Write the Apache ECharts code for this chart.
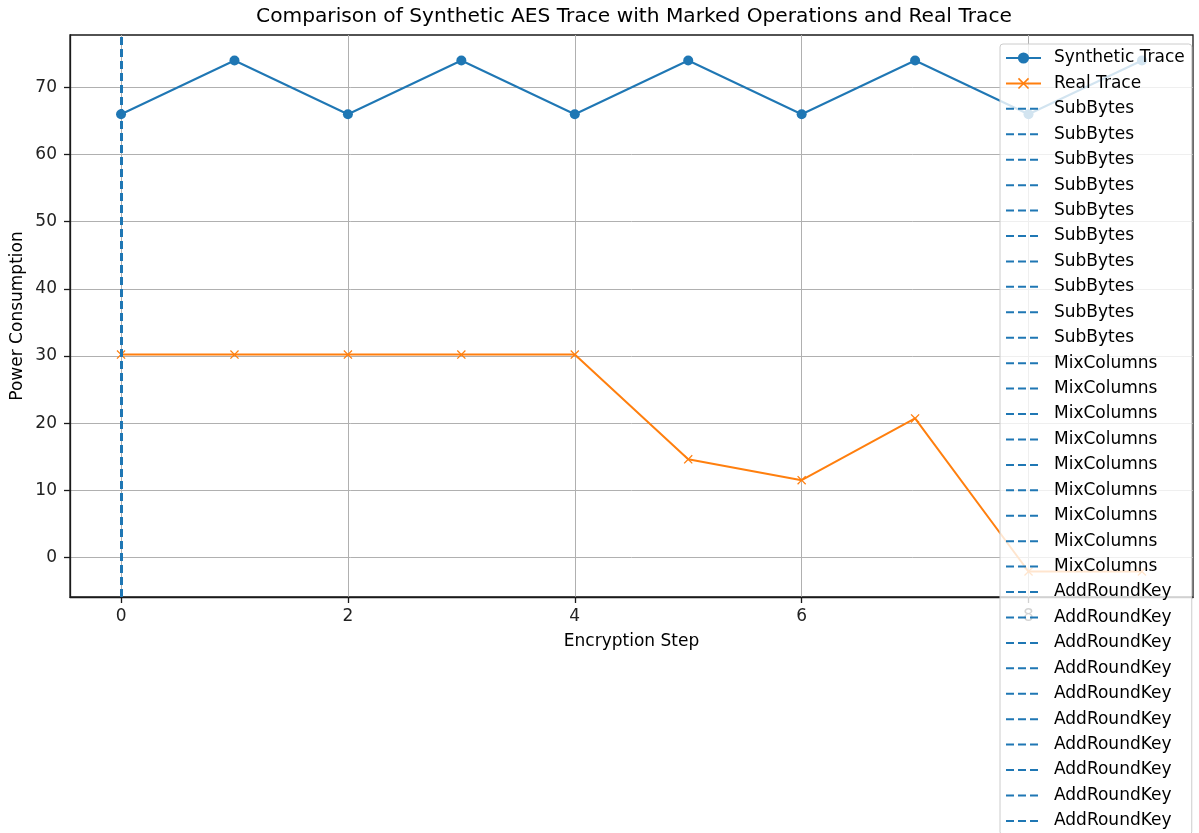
<!DOCTYPE html>
<html>
<head>
<meta charset="utf-8">
<script src="https://cdn.jsdelivr.net/npm/echarts@6/dist/echarts.min.js"></script>
<style>
  html, body { margin: 0; padding: 0; background: #fff; }
  #chart { width: 1199px; height: 833px; }
</style>
</head>
<body>
<div id="chart"></div>
<script>
// Encryption steps and the two power traces
const steps = [0, 1, 2, 3, 4, 5, 6, 7, 8, 9];
const syntheticTrace = [66, 74, 66, 74, 66, 74, 66, 74, 66, 74];
const realTrace = [30.2, 30.2, 30.2, 30.2, 30.2, 14.6, 11.5, 20.7, -2.1, -2.1];

// Step at which each marked AES operation occurs
const subBytesSteps = [0, 0, 0, 0, 0, 0, 0, 0, 0, 0];
const mixColumnsSteps = [0, 0, 0, 0, 0, 0, 0, 0, 0];
const addRoundKeySteps = [0, 0, 0, 0, 0, 0, 0, 0, 0, 0];

// Axis ranges and tick labels
const xRange = [-0.45, 9.45];
const yRange = [-5.9, 77.8];
const xTicks = [0, 2, 4, 6, 8];
const yTicks = [0, 10, 20, 30, 40, 50, 60, 70];

const FONT = 'DejaVu Sans';
const BLUE = '#1f77b4';
const ORANGE = '#ff7f0e';
const AXIS_COLOR = '#1a1a1a';
const CROSS = 'path://M0,1L1,0L5,4L9,0L10,1L6,5L10,9L9,10L5,6L1,10L0,9L4,5Z';
const DASH = [8, 4];

const series = [
  {
    name: 'Synthetic Trace',
    type: 'line',
    data: steps.map((s, i) => [s, syntheticTrace[i]]),
    symbol: 'circle',
    symbolSize: 10,
    lineStyle: { color: BLUE, width: 2 },
    itemStyle: { color: BLUE },
    z: 3
  },
  {
    name: 'Real Trace',
    type: 'line',
    data: steps.map((s, i) => [s, realTrace[i]]),
    symbol: CROSS,
    symbolSize: 9,
    lineStyle: { color: ORANGE, width: 2 },
    itemStyle: { color: ORANGE },
    z: 3
  }
];

// One dashed vertical marker per operation occurrence
function addMarkers(label, positions) {
  positions.forEach((pos, i) => {
    series.push({
      name: label + '|' + i,
      type: 'line',
      data: [],
      symbol: 'none',
      lineStyle: { color: BLUE, width: 2.2, type: DASH },
      itemStyle: { color: 'rgba(0,0,0,0)' },
      markLine: {
        silent: true,
        symbol: ['none', 'none'],
        label: { show: false },
        lineStyle: { color: BLUE, width: 2.8, type: DASH },
        data: [{ xAxis: pos }]
      },
      z: 4
    });
  });
}
addMarkers('SubBytes', subBytesSteps);
addMarkers('MixColumns', mixColumnsSteps);
addMarkers('AddRoundKey', addRoundKeySteps);

const axisLine = { show: true, onZero: false, lineStyle: { color: AXIS_COLOR, width: 1.3 } };

const chart = echarts.init(document.getElementById('chart'), null, { renderer: 'canvas' });
chart.setOption({
  animation: false,
  backgroundColor: '#fff',
  textStyle: { fontFamily: FONT },
  title: {
    text: 'Comparison of Synthetic AES Trace with Marked Operations and Real Trace',
    left: 634,
    top: 7,
    padding: 0,
    textAlign: 'center',
    textStyle: { fontFamily: FONT, fontSize: 20.2, fontWeight: 'normal', color: '#000' }
  },
  grid: {
    left: 70, right: 6, top: 35, bottom: 236,
    outerBoundsMode: 'none',
    containLabel: false,
    show: true, borderColor: AXIS_COLOR, borderWidth: 1.3, backgroundColor: 'transparent'
  },
  legend: {
    orient: 'vertical',
    left: 1000,
    top: 44,
    height: 2000,
    padding: [5, 7, 5, 5],
    itemWidth: 35,
    itemHeight: 14,
    itemGap: 7.43,
    backgroundColor: 'rgba(255,255,255,0.8)',
    borderColor: '#cccccc',
    borderWidth: 1,
    borderRadius: 3,
    formatter: name => name.split('|')[0],
    textStyle: { fontFamily: FONT, fontSize: 17, color: '#000', lineHeight: 18, padding: [0, 0, 0, 8] },
    data: series.map(s => s.name)
  },
  xAxis: {
    type: 'value',
    min: xRange[0],
    max: xRange[1],
    name: 'Encryption Step',
    nameLocation: 'middle',
    nameGap: 36,
    nameTextStyle: { fontFamily: FONT, fontSize: 17, color: '#000' },
    axisLine: axisLine,
    axisTick: { show: true, length: 6, customValues: xTicks, lineStyle: { color: AXIS_COLOR, width: 1.3 } },
    axisLabel: { customValues: xTicks, margin: 11, fontFamily: FONT, fontSize: 17, color: '#222' },
    splitLine: { show: true, lineStyle: { color: '#b0b0b0', width: 1 } }
  },
  yAxis: {
    type: 'value',
    min: yRange[0],
    max: yRange[1],
    name: 'Power Consumption',
    nameLocation: 'middle',
    nameGap: 44,
    nameMoveOverlap: false,
    nameTextStyle: { fontFamily: FONT, fontSize: 17, color: '#000' },
    axisLine: axisLine,
    axisTick: { show: true, length: 6, customValues: yTicks, lineStyle: { color: AXIS_COLOR, width: 1.3 } },
    axisLabel: { customValues: yTicks, margin: 13, fontFamily: FONT, fontSize: 17, color: '#222' },
    splitLine: { show: true, lineStyle: { color: '#b0b0b0', width: 1 } }
  },
  series: series
});
</script>
</body>
</html>
